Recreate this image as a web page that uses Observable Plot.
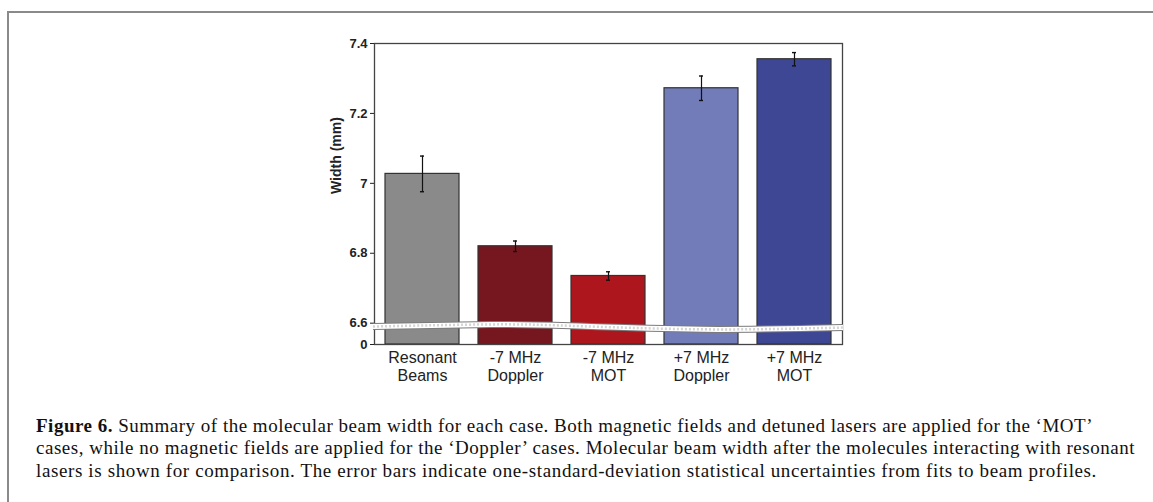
<!DOCTYPE html>
<html>
<head>
<meta charset="utf-8">
<script src="https://cdn.jsdelivr.net/npm/d3@7"></script>
<script src="https://cdn.jsdelivr.net/npm/@observablehq/plot@0.6"></script>
<style>
  html, body { margin: 0; padding: 0; background: #fff; }
  body { width: 1153px; height: 502px; position: relative; overflow: hidden; }
  #border { position: absolute; left: 7px; top: 11px; width: 1200px; height: 600px;
            border-left: 2px solid #8a8a8a; border-top: 2px solid #8a8a8a; }
  #chart { position: absolute; left: 0; top: 0; }
  .cap { position: absolute; left: 36px; white-space: nowrap;
         font-family: "Liberation Serif", "Times New Roman", serif; font-size: 19px;
         line-height: 22px; color: #111; }
  .cap b { font-weight: bold; }
</style>
</head>
<body>
<div id="border"></div>
<div id="chart"></div>
<div class="cap" id="c1" data-w="1057" style="top:415px"><b>Figure 6.</b> Summary of the molecular beam width for each case. Both magnetic fields and detuned lasers are applied for the ‘MOT’</div>
<div class="cap" id="c2" data-w="1099" style="top:437px">cases, while no magnetic fields are applied for the ‘Doppler’ cases. Molecular beam width after the molecules interacting with resonant</div>
<div class="cap" id="c3" data-w="1061" style="top:460px">lasers is shown for comparison. The error bars indicate one-standard-deviation statistical uncertainties from fits to beam profiles.</div>
<script>
// ---- data ----
const categories = ["Resonant\nBeams", "-7 MHz\nDoppler", "-7 MHz\nMOT", "+7 MHz\nDoppler", "+7 MHz\nMOT"];
const widths = [7.027, 6.820, 6.735, 7.272, 7.355];
const errors = [0.051, 0.015, 0.012, 0.035, 0.019];
const barColors = ["#8a8a8a", "#76161f", "#ad161d", "#717cb8", "#3e4793"];
const yBase = 6.539;
const yTicks = [6.539, 6.6, 6.8, 7.0, 7.2, 7.4];
const yTickLabels = ["0", "6.6", "6.8", "7", "7.2", "7.4"];
// axis-break band (fraction across plot, value in mm)
const breakFrac = [0, 0.25, 0.42, 0.7, 1];
const breakVal = [6.589, 6.595, 6.591, 6.581, 6.586];

const data = categories.map((c, i) => ({cat: c, w: widths[i], e: errors[i], color: barColors[i]}));

const plot = Plot.plot({
  width: 1153,
  height: 400,
  marginLeft: 374,
  marginRight: 311,
  marginTop: 43,
  marginBottom: 56,
  style: {fontFamily: "'Liberation Sans', Arial, Helvetica, sans-serif", background: "transparent", color: "#222"},
  x: {domain: categories, paddingInner: 0.2, paddingOuter: 0.1},
  y: {domain: [yBase, 7.4]},
  color: {type: "identity"},
  marks: [
    Plot.barY(data, {x: "cat", y1: yBase, y2: "w", fill: "color", stroke: "#333", strokeWidth: 1.2}),
    Plot.ruleX(data, {x: "cat", y1: d => d.w - d.e, y2: d => d.w + d.e, stroke: "#111", strokeWidth: 1.2}),
    Plot.tickY(data, {x: "cat", y: d => d.w + d.e, insetLeft: 35, insetRight: 35, stroke: "#111", strokeWidth: 1.4}),
    Plot.tickY(data, {x: "cat", y: d => d.w - d.e, insetLeft: 35, insetRight: 35, stroke: "#111", strokeWidth: 1.4}),
    Plot.frame({stroke: "#444", strokeWidth: 1.3}),
    Plot.axisY({ticks: yTicks, tickFormat: d => yTickLabels[yTicks.indexOf(d)], tickSize: 4, tickPadding: 3,
                fontSize: 13, fontWeight: "bold", label: null}),
    Plot.axisX({tickSize: 0, tickPadding: 5, fontSize: 16, lineHeight: 1.15, label: null}),
    Plot.text(["Width (mm)"], {frameAnchor: "left", dx: -38, rotate: -90, fontSize: 14, fontWeight: "bold", fill: "#222"})
  ]
});
document.getElementById("chart").appendChild(plot);

// axis-break wave drawn through the plot's own y scale
const ys = plot.scale("y");
const xl = 373, xr = 843;
const pts = breakFrac.map((f, i) => [xl + f * (xr - xl), ys.apply(breakVal[i])]);
const line = d3.line().curve(d3.curveNatural);
const svg = d3.select(plot);
svg.append("path").attr("d", line(pts)).attr("fill", "none").attr("stroke", "#7a7a7a").attr("stroke-width", 7);
svg.append("path").attr("d", line(pts)).attr("fill", "none").attr("stroke", "#fff").attr("stroke-width", 5);
svg.append("path").attr("d", line(pts)).attr("fill", "none").attr("stroke", "#d4d4d4").attr("stroke-width", 2.5).attr("stroke-dasharray", "2,2");

// fit caption lines to their widths
for (const el of document.querySelectorAll(".cap")) {
  const target = +el.dataset.w;
  const w = el.getBoundingClientRect().width;
  const n = el.textContent.length;
  el.style.letterSpacing = ((target - w) / n) + "px";
}
</script>
</body>
</html>
